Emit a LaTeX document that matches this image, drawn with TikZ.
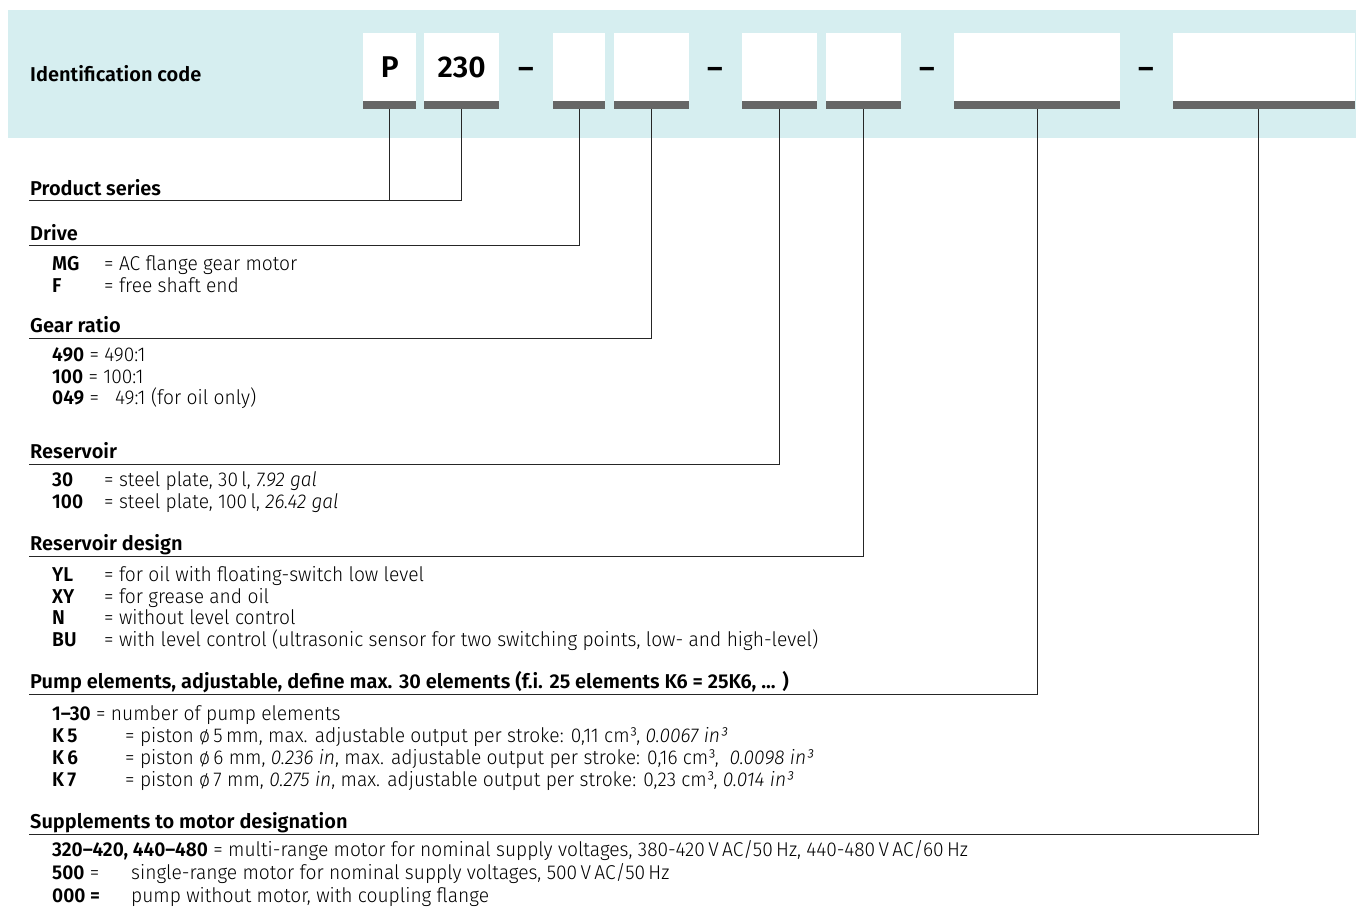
\documentclass[tikz,border=0pt]{standalone}
\usepackage{fontspec}
\IfFontExistsTF{Fira Sans SemiBold}
  {\setmainfont{Fira Sans}[Numbers=Proportional,BoldFont={Fira Sans SemiBold}]}
  {\setmainfont{Fira Sans}[Numbers=Proportional]}
\IfFontExistsTF{Fira Sans Light}
  {\newfontfamily\bodyfont{Fira Sans Light}[FakeStretch=0.96,Numbers=Proportional,BoldFont={Fira Sans SemiBold},ItalicFont={Fira Sans Light Italic}]}
  {\newfontfamily\bodyfont{Fira Sans}[FakeStretch=0.96,Numbers=Proportional]}
\definecolor{bandc}{RGB}{214,238,240}
\definecolor{barc}{RGB}{102,102,102}
\begin{document}
\begin{tikzpicture}[x=1pt,y=-1pt,
  title/.style={anchor=base west,inner sep=0pt,font=\fontsize{20}{22}\selectfont\bfseries},
  body/.style={anchor=base west,inner sep=0pt,font=\bodyfont\fontsize{20}{22}\selectfont},
  key/.style={anchor=base west,inner sep=0pt,font=\bodyfont\fontsize{20}{22}\selectfont\bfseries},
  codebox/.style={fill=white,minimum height=68pt,inner sep=0pt,anchor=north west,font=\fontsize{30}{32}\selectfont\bfseries},
  codedash/.style={anchor=base,inner sep=0pt,font=\fontsize{30}{32}\selectfont\bfseries},
  bar/.style={fill=barc},
  conn/.style={draw=black!85,line width=1pt}]
\useasboundingbox (0,0) rectangle (1356,908);
% header band
\fill[bandc] (8,10) rectangle (1356,138);
\node[title] (idc) at (30,81) {Identification code};
% code boxes
\node[codebox,minimum width=53pt] (bP) at (363,33) {P};
\node[codebox,minimum width=75pt] (bB) at (424,33) {230};
\node[codedash] (d1) at (526,78) {–};
\node[codebox,minimum width=52pt] (bC) at (553,33) {};
\node[codebox,minimum width=75pt] (bD) at (614,33) {};
\node[codedash] (d2) at (715,78) {–};
\node[codebox,minimum width=75pt] (bE) at (742,33) {};
\node[codebox,minimum width=75pt] (bF) at (826,33) {};
\node[codedash] (d3) at (927,78) {–};
\node[codebox,minimum width=166pt] (bG) at (954,33) {};
\node[codedash] (d4) at (1146,78) {–};
\node[codebox,minimum width=182pt] (bH) at (1173,33) {};
\foreach \b in {bP,bB,bC,bD,bE,bF,bG,bH}{
  \fill[bar] (\b.south west) rectangle ([yshift=-8pt]\b.south east);
}
% line end points
\coordinate (eA) at (29,200.7);
\coordinate (eC) at (29,245.7);
\coordinate (eD) at (29,338);
\coordinate (eE) at (29,464.5);
\coordinate (eF) at (29,556.5);
\coordinate (eG) at (29,694.5);
\coordinate (eH) at (29,834.5);
% connectors
\draw[conn] ([yshift=-8pt]bP.south) |- (eA);
\draw[conn] ([yshift=-8pt]bB.south) |- (eA);
\draw[conn] ([yshift=-8pt]bC.south) |- (eC);
\draw[conn] ([yshift=-8pt]bD.south) |- (eD);
\draw[conn] ([yshift=-8pt]bE.south) |- (eE);
\draw[conn] ([yshift=-8pt]bF.south) |- (eF);
\draw[conn] ([yshift=-8pt]bG.south) |- (eG);
\draw[conn] ([xshift=-6pt,yshift=-8pt]bH.south) |- (eH);
% Product series
\node[title] (tA) at (30,195) {Product series};
% Drive
\node[title] (tC) at (30,240) {Drive};
\node[key] (kC1) at (52,270) {MG};
\node[body] (vC1) at (104,270) {= AC flange gear motor};
\node[key] (kC2) at (52,292) {F};
\node[body] (vC2) at (104,292) {= free shaft end};
% Gear ratio
\node[title] (tD) at (30,332) {Gear ratio};
\node[body] (vD1) at (52,361) {\textbf{490} = 490:1};
\node[body] (vD2) at (52,383) {\textbf{100} = 100:1};
\node[body] (vD3) at (52,404) {\textbf{049} = \ \ 49:1 (for oil only)};
% Reservoir
\node[title] (tE) at (30,458.5) {Reservoir};
\node[key] (kE1) at (52,486.5) {30};
\node[body] (vE1) at (104,486.5) {= steel plate, 30\,l, \textit{7.92 gal}};
\node[key] (kE2) at (52,508) {100};
\node[body] (vE2) at (104,508) {= steel plate, 100\,l, \textit{26.42 gal}};
% Reservoir design
\node[title] (tF) at (30,550.5) {Reservoir design};
\node[key] (kF1) at (52,581) {YL};
\node[body] (vF1) at (104,581) {= for oil with floating-switch low level};
\node[key] (kF2) at (52,603) {XY};
\node[body] (vF2) at (104,603) {= for grease and oil};
\node[key] (kF3) at (52,624.5) {N};
\node[body] (vF3) at (104,624.5) {= without level control};
\node[key] (kF4) at (52,646) {BU};
\node[body] (vF4) at (104,646) {= with level control (ultrasonic sensor for two switching points, low- and high-level)};
% Pump elements
\node[title] (tG) at (30,688.5) {Pump elements, adjustable, define max. 30 elements (f.i. 25 elements K6 = 25K6, ... )};
\node[body] (vG1) at (52,720) {\textbf{1–30} = number of pump elements};
\node[key] (kG2) at (52,742) {K\,5};
\node[body] (vG2) at (125,742) {= piston ø\,5\,mm, max. adjustable output per stroke: 0,11 cm³, \textit{0.0067 in³}};
\node[key] (kG3) at (52,764) {K\,6};
\node[body] (vG3) at (125,764) {= piston ø\,6 mm, \textit{0.236 in}, max. adjustable output per stroke: 0,16 cm³, \ \textit{0.0098 in³}};
\node[key] (kG4) at (52,786) {K\,7};
\node[body] (vG4) at (125,786) {= piston ø\,7 mm, \textit{0.275 in}, max. adjustable output per stroke: 0,23 cm³, \textit{0.014 in³}};
% Supplements
\node[title] (tH) at (30,828) {Supplements to motor designation};
\node[body] (vH1) at (52,856) {\textbf{320–420, 440–480} = multi-range motor for nominal supply voltages, 380-420\,V\,AC/50\,Hz, 440-480\,V\,AC/60\,Hz};
\node[body] (kH2) at (52,879) {\textbf{500} =};
\node[body] (vH2) at (131,879) {single-range motor for nominal supply voltages, 500\,V\,AC/50\,Hz};
\node[body] (kH3) at (52,902) {\textbf{000 =}};
\node[body] (vH3) at (131,902) {pump without motor, with coupling flange};
\end{tikzpicture}
\end{document}
